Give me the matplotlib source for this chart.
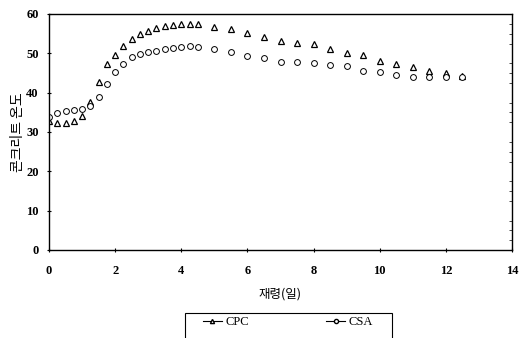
import matplotlib
matplotlib.use("Agg")
import matplotlib.pyplot as plt
from matplotlib.patches import Rectangle
from matplotlib.ticker import MultipleLocator

# age in days
days_early = [0, 0.25, 0.5, 0.75, 1.0, 1.25, 1.5, 1.75, 2.0, 2.25, 2.5, 2.75,
              3.0, 3.25, 3.5, 3.75, 4.0, 4.25, 4.5]
days_late = [5.0, 5.5, 6.0, 6.5, 7.0, 7.5, 8.0, 8.5, 9.0, 9.5, 10.0, 10.5,
             11.0, 11.5, 12.0, 12.5]
days = days_early + days_late

cpc = [32.8, 32.4, 32.4, 32.9, 34.1, 37.7, 42.8, 47.3, 49.6, 51.9, 53.6, 55.0,
       55.8, 56.5, 57.0, 57.2, 57.5, 57.5, 57.5,
       56.8, 56.2, 55.1, 54.1, 53.2, 52.6, 52.3, 51.0, 50.2, 49.6, 48.1, 47.3,
       46.4, 45.6, 45.1, 44.2]
csa = [33.7, 34.9, 35.4, 35.6, 35.9, 36.6, 38.8, 42.2, 45.3, 47.2, 49.0, 49.8,
       50.3, 50.6, 51.0, 51.4, 51.7, 51.9, 51.6,
       51.1, 50.3, 49.3, 48.7, 47.9, 47.7, 47.6, 47.0, 46.8, 45.6, 45.3, 44.5,
       44.1, 44.1, 43.9, 44.0]

kfont = ['Noto Sans CJK KR', 'DejaVu Sans']
num_font = dict(family='Liberation Serif', weight='bold', size=9)
W, H = 528, 338

fig = plt.figure(figsize=(W / 100, H / 100), dpi=100)
ax = fig.add_axes([49 / W, 1 - 250 / H, 463 / W, 236 / H])

ax.plot(days, cpc, linestyle='none', marker='^', markersize=4.2,
        markerfacecolor='white', markeredgecolor='black', markeredgewidth=0.9,
        label='CPC')
ax.plot(days, csa, linestyle='none', marker='o', markersize=4.2,
        markerfacecolor='white', markeredgecolor='black', markeredgewidth=0.7,
        label='CSA')

ax.set_xlim(0, 14)
ax.set_ylim(0, 60)
ax.xaxis.set_major_locator(MultipleLocator(2))
ax.yaxis.set_major_locator(MultipleLocator(10))
ax.yaxis.set_minor_locator(MultipleLocator(2.5))
ax.tick_params(which='major', direction='inout', length=3, width=0.8)
ax.tick_params(axis='x', which='major', pad=9)
ax.tick_params(axis='y', which='major', pad=6)
ax.tick_params(which='minor', direction='in', length=2, width=0.5,
               left=False, right=True)
for lab in ax.get_xticklabels() + ax.get_yticklabels():
    lab.set_fontproperties(num_font)
for sp in ax.spines.values():
    sp.set_linewidth(1.0)

ax.set_xlabel('재령(일)', family=kfont, fontsize=9, labelpad=8)
ax.set_ylabel('콘크리트 온도', family=kfont, fontsize=10)
ax.yaxis.set_label_coords(-24 / 463, 0.5)

handles = [
    plt.Line2D([], [], color='black', linewidth=0.8, marker='^', markersize=3,
               markerfacecolor='white', markeredgecolor='black'),
    plt.Line2D([], [], color='black', linewidth=0.8, marker='o', markersize=3,
               markerfacecolor='white', markeredgecolor='black'),
]
leg = fig.legend(handles, ['CPC', 'CSA'], loc='center', ncol=2,
                 bbox_to_anchor=(288 / W, 1 - 322 / H), frameon=False,
                 handlelength=1.5, handletextpad=0.3, columnspacing=6.2,
                 prop=dict(family='Liberation Serif', size=9))
# legend box, open at the bottom edge of the image
fig.patches.append(Rectangle((185 / W, -0.02), 207 / W, (H - 313) / H + 0.02,
                             transform=fig.transFigure, fill=False,
                             edgecolor='black', linewidth=0.8))

fig.savefig('out.png', dpi=100)
